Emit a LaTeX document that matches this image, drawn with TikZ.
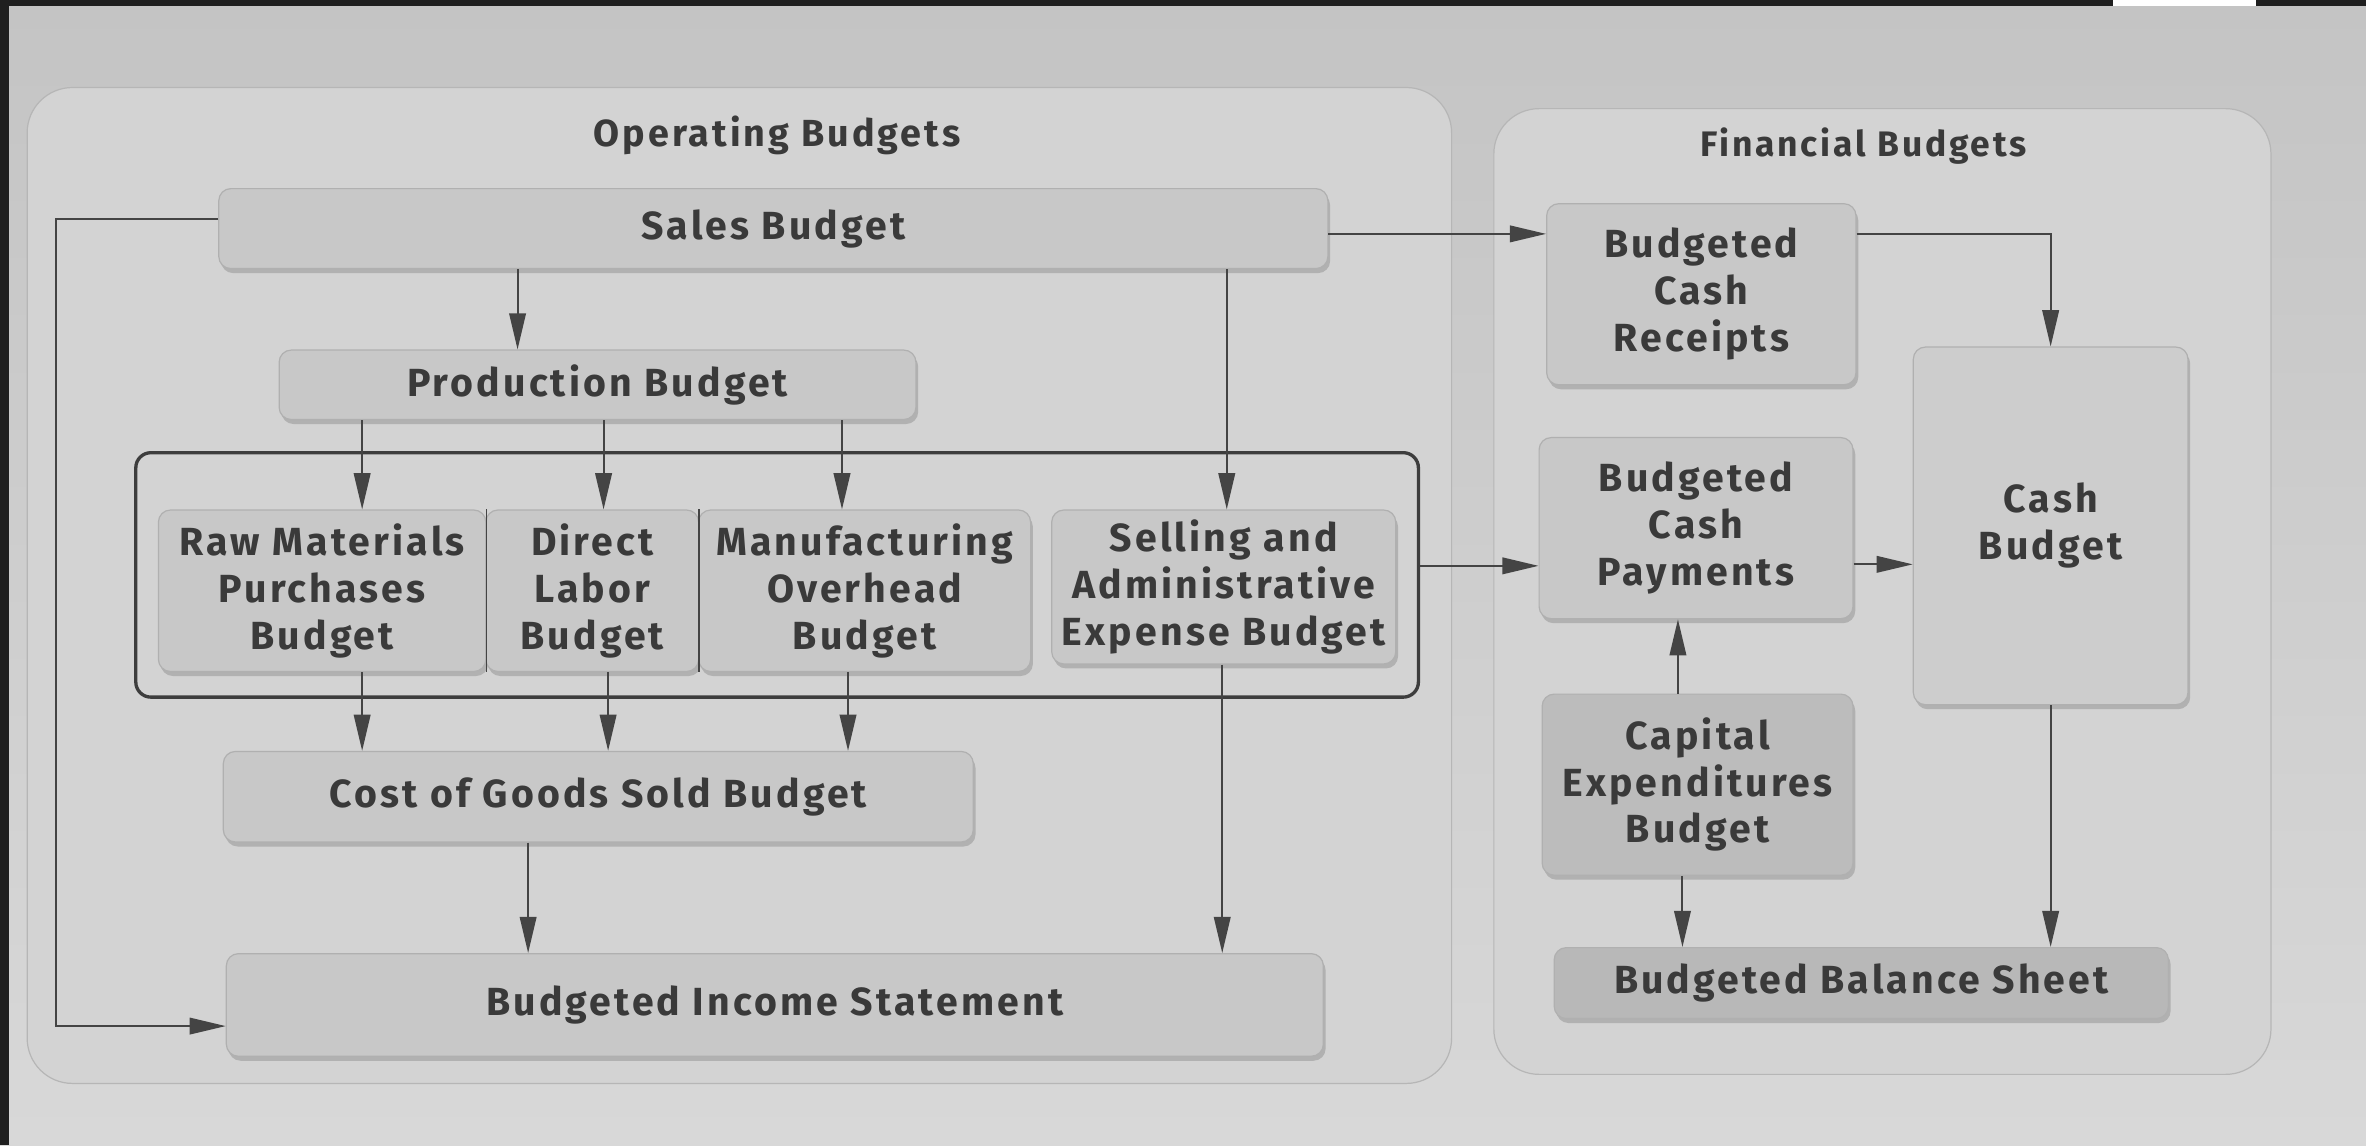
\documentclass[tikz,border=0pt]{standalone}
\usepackage{fontspec}
\setmainfont{Fira Sans}[LetterSpace=8]
\usetikzlibrary{arrows.meta,shadows}

\definecolor{pagetop}{HTML}{C4C4C4}
\definecolor{pagebot}{HTML}{D8D8D8}
\definecolor{panelfill}{HTML}{D3D3D3}
\definecolor{paneledge}{HTML}{B6B6B6}
\definecolor{boxfill}{HTML}{C8C8C8}
\definecolor{boxedge}{HTML}{B0B0B0}
\definecolor{inkc}{HTML}{3A3A3A}
\definecolor{linec}{HTML}{444444}

\tikzset{
  panel/.style={fill=panelfill, draw=paneledge, line width=0.8pt, rounded corners=30pt},
  title/.style={text=inkc, font=\fontsize{25}{30}\selectfont\bfseries},
  fintitle/.style={text=inkc, font=\fontsize{23.5}{28}\selectfont\bfseries},
  budget/.style={fill=boxfill, draw=boxedge, line width=0.8pt, rounded corners=8pt,
    text=inkc, align=center, inner sep=0pt,
    font=\fontsize{26}{31}\selectfont\bfseries,
    drop shadow={shadow xshift=1.5pt, shadow yshift=-3pt, opacity=0.16, fill=black}},
  group/.style={draw=linec!90!black, line width=2.2pt, rounded corners=10pt, inner sep=0pt},
  sep/.style={draw=linec, line width=1pt},
  arr/.style={draw=linec, line width=1.3pt, -{Triangle[length=24pt, width=11pt]}},
}

\begin{document}
\begin{tikzpicture}[x=1pt, y=-1pt]
  % page
  \useasboundingbox (0,0) rectangle (1568,759);
  \shade[top color=pagetop, bottom color=pagebot] (0,0) rectangle (1568,759);
  \fill[black!88] (0,0) rectangle (6,759);
  \fill[black!88] (0,0) rectangle (1400,4);
  \fill[white] (1400,0) rectangle (1495,4);
  \fill[black!88] (1495,0) rectangle (1568,4);

  % two panels
  \node[panel, minimum width=944pt, minimum height=660pt] (op) at (490,388) {};
  \node[panel, minimum width=515pt, minimum height=640pt] (fin) at (1247.5,392) {};
  \node[title] (optitle) at (515,90) {Operating Budgets};
  \node[fintitle] (fintitle) at (1235,97) {Financial Budgets};

  % operating budgets
  \node[budget, minimum width=735pt, minimum height=53pt] (sales) at (512.5,151.5) {Sales Budget};
  \node[budget, minimum width=422pt, minimum height=46pt] (prod) at (396,255) {Production Budget};
  \node[group, minimum width=850pt, minimum height=162pt] (grp) at (515,381) {};
  \node[budget, minimum width=217pt, minimum height=107pt] (raw) at (213.5,391.5) {Raw Materials\\Purchases\\Budget};
  \node[budget, minimum width=141pt, minimum height=107pt] (dl) at (392.5,391.5) {Direct\\Labor\\Budget};
  \node[budget, minimum width=220pt, minimum height=107pt] (mo) at (573,391.5) {Manufacturing\\Overhead\\Budget};
  \node[budget, minimum width=228pt, minimum height=102pt] (sa) at (811,389) {Selling and\\Administrative\\Expense Budget};
  \draw[sep] (raw.north east) -- (raw.south east);
  \draw[sep] (dl.north east) -- (dl.south east);
  \node[budget, minimum width=497pt, minimum height=60pt] (cogs) at (396.5,528) {Cost of Goods Sold Budget};
  \node[budget, minimum width=727pt, minimum height=68pt] (inc) at (513.5,666) {Budgeted Income Statement};

  % financial budgets
  \node[budget, minimum width=205pt, minimum height=120pt] (rec) at (1127.5,195) {Budgeted\\Cash\\Receipts};
  \node[budget, minimum width=208pt, minimum height=120pt] (pay) at (1124,350) {Budgeted\\Cash\\Payments};
  \node[budget, minimum width=206pt, minimum height=120pt, fill=boxfill!94!black] (cap) at (1125,520) {Capital\\Expenditures\\Budget};
  \node[budget, minimum width=182pt, minimum height=237pt, fill=panelfill!97!black] (cash) at (1359,348.5) {Cash\\Budget};
  \node[budget, minimum width=407pt, minimum height=47pt, fill=boxfill!92!black] (bal) at (1233.5,651.5) {Budgeted Balance Sheet};

  % x and y positions of the connectors
  \coordinate (xsp) at (343,0);
  \coordinate (xa) at (240,0);
  \coordinate (xb) at (400,0);
  \coordinate (xc) at (558,0);
  \coordinate (xb2) at (403,0);
  \coordinate (xc2) at (562,0);
  \coordinate (xs) at (813,0);
  \coordinate (xs2) at (810,0);
  \coordinate (xci) at (350,0);
  \coordinate (xl) at (37,0);
  \coordinate (xcp) at (1112,0);
  \coordinate (xcb) at (1115,0);
  \coordinate (yl) at (0,145);
  \coordinate (yli) at (0,680);
  \coordinate (yr) at (0,155);
  \coordinate (yp) at (0,374);
  \coordinate (yg) at (0,375);

  % operating flows
  \draw[arr] (sales.south -| xsp) -- (prod.north -| xsp);
  \draw[arr] (prod.south -| xa) -- (raw.north -| xa);
  \draw[arr] (prod.south -| xb) -- (dl.north -| xb);
  \draw[arr] (prod.south -| xc) -- (mo.north -| xc);
  \draw[arr] (sales.south -| xs) -- (sa.north -| xs);
  \draw[arr] (raw.south -| xa) -- (cogs.north -| xa);
  \draw[arr] (dl.south -| xb2) -- (cogs.north -| xb2);
  \draw[arr] (mo.south -| xc2) -- (cogs.north -| xc2);
  \draw[arr] (cogs.south -| xci) -- (inc.north -| xci);
  \draw[arr] (sa.south -| xs2) -- (inc.north -| xs2);
  \draw[arr] (sales.west |- yl) -- (xl |- yl) -- (xl |- yli) -- (inc.west |- yli);

  % into the financial budgets
  \draw[arr] (sales.east |- yr) -- (rec.west |- yr);
  \draw[arr] (grp.east |- yg) -- (pay.west |- yg);
  \draw[arr] (rec.east |- yr) -| (cash.north);
  \draw[arr] (pay.east |- yp) -- (cash.west |- yp);
  \draw[arr] (cap.north -| xcp) -- (pay.south -| xcp);
  \draw[arr] (cap.south -| xcb) -- (bal.north -| xcb);
  \draw[arr] (cash.south) -- (cash.south |- bal.north);
\end{tikzpicture}
\end{document}
